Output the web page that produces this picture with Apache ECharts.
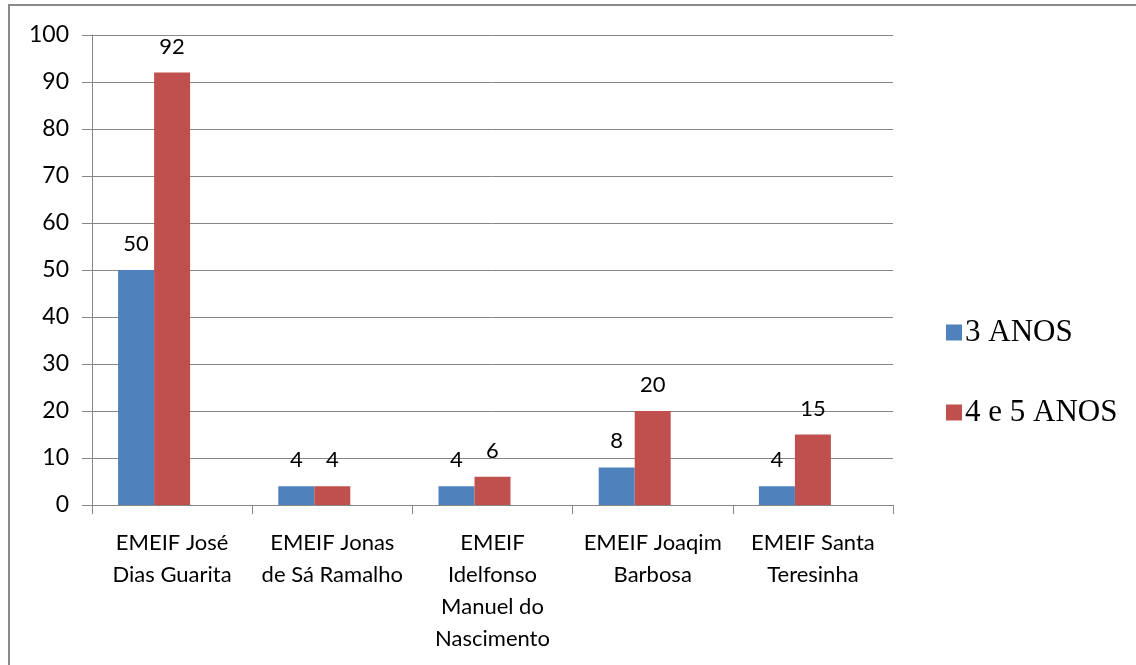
<!DOCTYPE html>
<html>
<head>
<meta charset="utf-8">
<script src="https://cdn.jsdelivr.net/npm/echarts@6/dist/echarts.min.js"></script>
<style>
html,body{margin:0;padding:0;background:#fff;}
#chart{width:1136px;height:665px;}
</style>
</head>
<body>
<div id="chart"></div>
<script>
const categories = [
  "EMEIF José\nDias Guarita",
  "EMEIF Jonas\nde Sá Ramalho",
  "EMEIF\nIdelfonso\nManuel do\nNascimento",
  "EMEIF Joaqim\nBarbosa",
  "EMEIF Santa\nTeresinha"
];
const series3Anos = [50, 4, 4, 8, 4];
const series45Anos = [92, 4, 6, 20, 15];
const seriesNames = ["3 ANOS", "4 e 5 ANOS"];

const chart = echarts.init(document.getElementById('chart'));
const labelFont = "Lato, 'Open Sans', 'Noto Sans', sans-serif";
const barLabel = {
  show: true,
  position: 'top',
  distance: 15,
  color: '#000',
  fontSize: 22,
  fontFamily: labelFont
};
chart.setOption({
  animation: false,
  graphic: [{
    type: 'rect',
    shape: {x: 9, y: 5, width: 1140, height: 680},
    style: {fill: 'none', stroke: '#8a8a8a', lineWidth: 2},
    silent: true
  }],
  grid: {left: 92, right: 243, top: 35, bottom: 160, containLabel: false},
  legend: {
    orient: 'vertical',
    left: 941,
    top: 312,
    itemWidth: 16,
    itemHeight: 16,
    itemGap: 49,
    icon: 'rect',
    textStyle: {fontFamily: "'Liberation Serif', 'DejaVu Serif', serif", fontSize: 31, color: '#000', padding: [0,0,0,-2]},
    data: seriesNames
  },
  xAxis: {
    type: 'category',
    data: categories,
    axisLine: {lineStyle: {color: '#868686', width: 1}},
    axisTick: {show: true, length: 9, lineStyle: {color: '#868686'}},
    axisLabel: {
      color: '#000',
      fontSize: 22,
      fontFamily: labelFont,
      lineHeight: 32,
      margin: 22,
      interval: 0
    }
  },
  yAxis: {
    type: 'value',
    min: 0,
    max: 100,
    interval: 10,
    axisLine: {show: true, lineStyle: {color: '#868686', width: 1}},
    axisTick: {show: true, length: 10, lineStyle: {color: '#868686'}},
    splitLine: {lineStyle: {color: '#868686', width: 1}},
    axisLabel: {color: '#000', fontSize: 23, fontFamily: labelFont, margin: 23}
  },
  series: [
    {
      name: seriesNames[0],
      type: 'bar',
      data: series3Anos,
      barWidth: 36,
      barGap: '0%',
      itemStyle: {color: '#4F81BD'},
      label: barLabel
    },
    {
      name: seriesNames[1],
      type: 'bar',
      data: series45Anos,
      barWidth: 36,
      barGap: '0%',
      itemStyle: {color: '#C0504D'},
      label: barLabel
    },
    {
      name: '',
      type: 'bar',
      data: [],
      barWidth: 36,
      barGap: '0%',
      silent: true
    }
  ]
});
</script>
</body>
</html>
